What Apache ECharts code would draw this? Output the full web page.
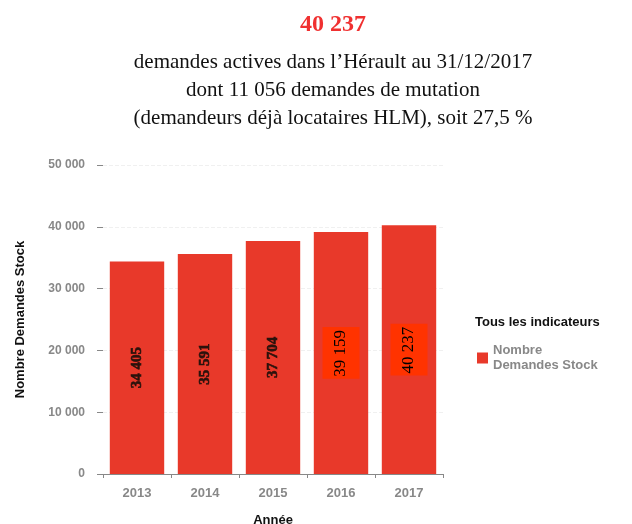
<!DOCTYPE html>
<html><head><meta charset="utf-8">
<script src="https://cdn.jsdelivr.net/npm/echarts@6/dist/echarts.min.js"></script>
<style>html,body{margin:0;padding:0;background:#fff}#c{width:632px;height:524px}</style>
</head><body><div id="c"></div>
<script>
const categories = ['2013','2014','2015','2016','2017'];
const values = [34405, 35591, 37704, 39159, 40237];
const labelTexts = ['34 405','35 591','37 704','39 159','40 237'];
const yTicks = [0, 10000, 20000, 30000, 40000, 50000];
const yTickLabels = ['0','10 000','20 000','30 000','40 000','50 000'];

const chart = echarts.init(document.getElementById('c'), null, {renderer:'canvas'});
const data = values.map((v,i)=>{
  const highlighted = i >= 3;
  return {
    value: v,
    label: highlighted ? {
      fontFamily: 'Liberation Serif', fontWeight: 'normal', fontSize: 17, color: '#000',
      backgroundColor: '#ff3300', padding: [10, 3, 10, 2]
    } : {
      fontFamily: 'Liberation Serif', fontWeight: 'bold', fontSize: 15, color: '#2a120c',
      textBorderColor: '#2a120c', textBorderWidth: 0.6
    }
  };
});
chart.setOption({
  animation: false,
  title: [
    {text: '40 237', left: 328, top: 8, textAlign: 'center',
     textStyle: {fontFamily: 'Liberation Serif', fontSize: 24, fontWeight: 'bold', color: '#f03030'}},
    {text: 'demandes actives dans l\u2019Hérault au 31/12/2017\ndont 11 056 demandes de mutation\n(demandeurs déjà locataires HLM), soit 27,5 %',
     left: 328, top: 43, textAlign: 'center',
     textStyle: {fontFamily: 'Liberation Serif', fontSize: 21, fontWeight: 'normal', color: '#111', lineHeight: 28}},
    {text: 'Tous les indicateurs', left: 470, top: 311,
     textStyle: {fontFamily: 'Liberation Sans', fontSize: 13, fontWeight: 'bold', color: '#111'}}
  ],
  legend: {
    left: 472, top: 338, orient: 'vertical', itemWidth: 11, itemHeight: 11, icon: 'rect',
    data: ['Nombre\nDemandes Stock'],
    textStyle: {fontFamily: 'Liberation Sans', fontSize: 13, fontWeight: 'bold', color: '#888', lineHeight: 15}
  },
  grid: {left: 103, right: 189, top: 165, bottom: 50, outerBoundsMode: 'none', containLabel: false},
  xAxis: {
    type: 'category', data: categories,
    name: 'Année', nameLocation: 'middle', nameGap: 40,
    nameTextStyle: {fontFamily: 'Liberation Sans', fontSize: 13, fontWeight: 'bold', color: '#111'},
    axisLine: {show: true, lineStyle: {color: '#888'}},
    axisTick: {show: true, length: 4, lineStyle: {color: '#888'}},
    axisLabel: {fontFamily: 'Liberation Sans', fontSize: 13, fontWeight: 'bold', color: '#888', margin: 13}
  },
  yAxis: {
    type: 'value', min: 0, max: 50000, interval: 10000,
    name: 'Nombre Demandes Stock', nameLocation: 'middle', nameGap: 76, nameRotate: 90,
    nameTextStyle: {fontFamily: 'Liberation Sans', fontSize: 13, fontWeight: 'bold', color: '#111'},
    axisLine: {show: false},
    axisTick: {show: true, length: 6, lineStyle: {color: '#888'}},
    splitLine: {show: true, lineStyle: {color: '#f0f0f0', type: 'dashed'}},
    axisLabel: {fontFamily: 'Liberation Sans', fontSize: 12, fontWeight: 'bold', color: '#888', margin: 18,
      formatter: v => yTickLabels[yTicks.indexOf(v)] ?? String(v)}
  },
  series: [{
    name: 'Nombre\nDemandes Stock', type: 'bar', data: data, barCategoryGap: '20%',
    itemStyle: {color: '#e8392a'},
    label: {show: true, position: 'inside', rotate: 90,
      formatter: p => labelTexts[p.dataIndex]}
  }]
});
</script></body></html>
